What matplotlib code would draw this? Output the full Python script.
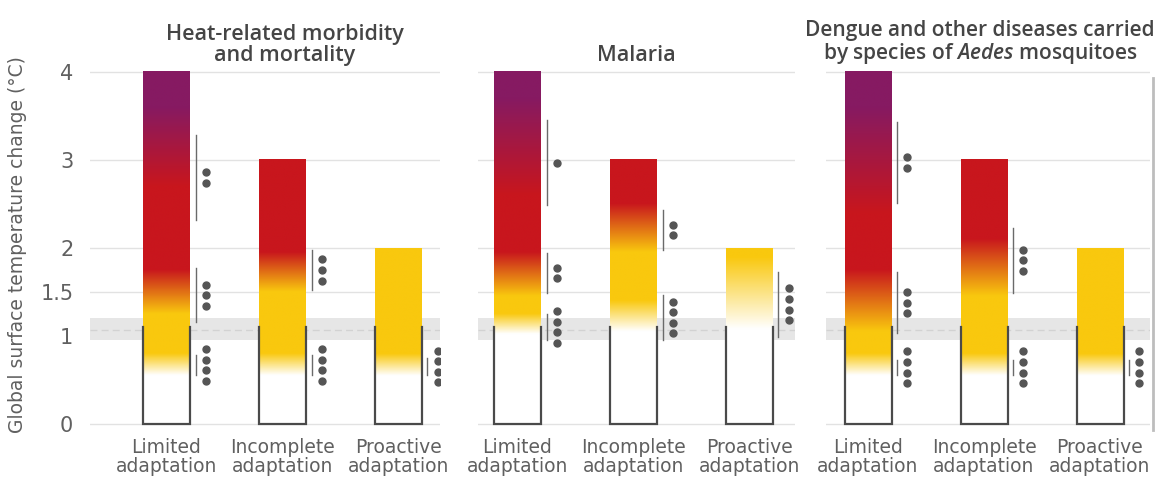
import numpy as np
import matplotlib.pyplot as plt
from matplotlib.colors import to_rgb

# burning-ember style risk chart, three health risks x three adaptation levels
titles = ["Heat-related morbidity\nand mortality",
          "Malaria",
          "Dengue and other diseases carried\nby species of $\\mathit{Aedes}$ mosquitoes"]
categories = ["Limited\nadaptation", "Incomplete\nadaptation", "Proactive\nadaptation"]
bar_tops = [4.0, 3.0, 2.0]

# colour stops along each ember: (temperature, colour key)
heat_embers = [
    [(0.55, "W"), (0.8, "Y"), (1.25, "Y"), (1.75, "R"), (2.7, "R"), (3.6, "P")],
    [(0.55, "W"), (0.8, "Y"), (1.5, "Y"), (1.95, "R")],
    [(0.55, "W"), (0.8, "Y")],
]
malaria_embers = [
    [(1.02, "W"), (1.25, "Y"), (1.45, "Y"), (1.95, "R"), (2.6, "R"), (3.7, "P")],
    [(1.05, "W"), (1.4, "Y"), (1.95, "Y"), (2.5, "R")],
    [(1.08, "W"), (1.9, "Y")],
]
dengue_embers = [
    [(0.55, "W"), (0.8, "Y"), (1.05, "Y"), (1.75, "R"), (2.4, "R"), (3.6, "P")],
    [(0.55, "W"), (0.8, "Y"), (1.45, "Y"), (2.1, "R")],
    [(0.55, "W"), (0.8, "Y")],
]

# transitions with confidence: (low, high, number of dots)
heat_conf = [
    [(2.32, 3.28, 2), (1.16, 1.77, 3), (0.56, 0.78, 4)],
    [(1.52, 1.98, 3), (0.56, 0.78, 4)],
    [(0.56, 0.75, 4)],
]
malaria_conf = [
    [(2.49, 3.45, 1), (1.49, 1.94, 2), (0.95, 1.25, 4)],
    [(1.98, 2.43, 2), (0.95, 1.47, 4)],
    [(0.99, 1.73, 4)],
]
dengue_conf = [
    [(2.51, 3.43, 2), (1.03, 1.73, 3), (0.56, 0.73, 4)],
    [(1.49, 2.23, 3), (0.56, 0.73, 4)],
    [(0.56, 0.73, 4)],
]

yticks = [0, 1, 1.5, 2, 3, 4]
ytick_labels = ["0", "1", "1.5", "2", "3", "4"]
grid_levels = [0, 1.5, 2, 3, 4]
observed = (0.95, 1.2)
box_top = 1.1

palette = {"W": "#ffffff", "Y": "#f9c80e", "R": "#c8161d", "P": "#861a62"}

W, H = 1156, 478
fig = plt.figure(figsize=(W / 100, H / 100), dpi=100)

plt.rcParams["font.family"] = ["Open Sans", "DejaVu Sans"]
plt.rcParams["mathtext.fontset"] = "custom"
plt.rcParams["mathtext.it"] = "Open Sans:italic:semibold"
label_font = ["DejaVu Sans"]

ylo, yhi = -0.1, 4.15
y_px = lambda v: 424 - 88 * v
bottom = (H - y_px(ylo)) / H
height = (y_px(ylo) - y_px(yhi)) / H

panel_px = [(90, 440, 166.5), (478, 795, 517.5), (826, 1150, 868)]
step = 116.0
bw = 47 / step

embers = [heat_embers, malaria_embers, dengue_embers]
confs = [heat_conf, malaria_conf, dengue_conf]


def ember_rgb(stops, top, n=400):
    ys = np.linspace(0, top, n)
    t = [s[0] for s in stops]
    cols = np.array([to_rgb(palette[s[1]]) for s in stops])
    rgb = np.stack([np.interp(ys, t, cols[:, k]) for k in range(3)], axis=1)
    return rgb[:, None, :]


for i, (x0, x1, c0) in enumerate(panel_px):
    ax = fig.add_axes([x0 / W, bottom, (x1 - x0) / W, height])
    xlim = (-(c0 - x0) / step, (x1 - c0) / step)

    ax.axhspan(*observed, color="#e6e6e6", zorder=0, lw=0)
    ax.axhline(1.07, color="#d2d2d2", lw=1, ls=(0, (5, 3)), zorder=0.5)
    for v in grid_levels:
        ax.axhline(v, color="#e2e2e2", lw=1, zorder=0.5)

    for j, top in enumerate(bar_tops):
        ax.imshow(ember_rgb(embers[i][j], top), extent=(j - bw / 2, j + bw / 2, 0, top),
                  origin="lower", aspect="auto", interpolation="bilinear", zorder=2)
        ax.plot([j - bw / 2, j - bw / 2, j + bw / 2, j + bw / 2], [box_top, 0, 0, box_top],
                color="#4a4a4a", lw=1.6, zorder=3, solid_joinstyle="miter")
        for lo, hi, n in confs[i][j]:
            ax.plot([j + 0.25, j + 0.25], [lo, hi], color="#6a6a6a", lw=1, zorder=3)
            mid = (lo + hi) / 2
            ys = mid + (np.arange(n) - (n - 1) / 2) * 0.12
            ax.plot(np.full(n, j + 0.34), ys, "o", ms=5, color="#555555", zorder=3)

    ax.set_xlim(*xlim)
    ax.set_ylim(ylo, yhi)
    ax.set_xticks(range(len(categories)))
    ax.set_xticklabels(categories, fontsize=13.5, color="#606060", family=label_font,
                       linespacing=0.95)
    ax.tick_params(length=0, pad=4)
    ax.set_yticks(yticks)
    if i == 0:
        ax.set_yticklabels(ytick_labels, fontsize=15, color="#606060", family=label_font)
        ax.tick_params(axis="y", pad=12)
    else:
        ax.set_yticklabels([])
    for s in ax.spines.values():
        s.set_visible(False)
    ax.patch.set_alpha(0)

    cx = [285, 636, 980][i]
    size = [15.5, 15.5, 15][i]
    fig.text(cx / W, 1 - 66 / H, titles[i], ha="center", va="bottom", fontsize=size,
             color="#454545", weight="semibold", linespacing=0.98)

fig.text(18 / W, 1 - 245 / H, "Global surface temperature change (°C)", rotation=90,
         ha="center", va="center", fontsize=13.5, color="#606060", family=label_font)

fig.add_artist(plt.Line2D([1153 / W, 1153 / W], [1 - 78 / H, 1 - 430 / H],
                          color="#bdbdbd", lw=2))

fig.savefig("out.png", dpi=100)
